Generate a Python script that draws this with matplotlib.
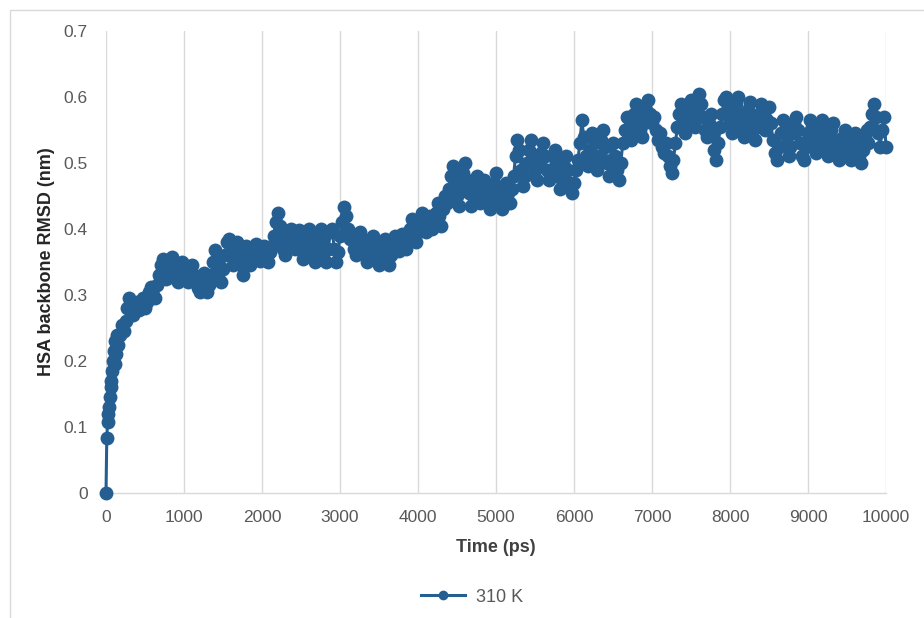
import matplotlib
matplotlib.use("Agg")
import matplotlib.pyplot as plt
from matplotlib.patches import Rectangle

plt.rcParams['font.family'] = ['Liberation Sans', 'DejaVu Sans']

# first frames are sampled densely (10 ps), the rest every 25 ps
early_t = [0, 10, 20, 30, 40, 50, 60, 70, 80, 90, 100, 110, 120, 130, 140]
early_rmsd = [0.0, 0.083, 0.108, 0.12, 0.13, 0.145, 0.16, 0.17, 0.185, 0.2,
              0.215, 0.195, 0.23, 0.21, 0.24]

# 310 K, t = 150 ps onward, one row = 500 ps
rmsd_310 = [
    0.225, 0.24, 0.255, 0.245, 0.26, 0.28, 0.295, 0.285, 0.27, 0.28,
    0.29, 0.278, 0.285, 0.295, 0.28, 0.29, 0.305, 0.312, 0.3, 0.295,
    0.315, 0.33, 0.345, 0.355, 0.34, 0.325, 0.335, 0.35, 0.357, 0.34,
    0.325, 0.32, 0.335, 0.35, 0.345, 0.33, 0.32, 0.335, 0.345, 0.33,
    0.325, 0.31, 0.305, 0.32, 0.333, 0.318, 0.305, 0.315, 0.33, 0.35,
    0.368, 0.355, 0.335, 0.32, 0.34, 0.36, 0.38, 0.385, 0.365, 0.345,
    0.36, 0.38, 0.365, 0.345, 0.33, 0.35, 0.375, 0.36, 0.345, 0.355,
    0.37, 0.378, 0.362, 0.352, 0.365, 0.375, 0.36, 0.35, 0.365, 0.375,
    0.39, 0.41, 0.424, 0.405, 0.385, 0.37, 0.36, 0.375, 0.395, 0.4,
    0.385, 0.37, 0.38, 0.398, 0.375, 0.355, 0.37, 0.39, 0.4, 0.38,
    0.36, 0.35, 0.37, 0.39, 0.4, 0.38, 0.365, 0.35, 0.37, 0.395,
    0.4, 0.37, 0.35, 0.365, 0.39, 0.41, 0.433, 0.42, 0.4, 0.385,
    0.39, 0.37, 0.36, 0.375, 0.395, 0.385, 0.37, 0.36, 0.35, 0.365,
    0.385, 0.39, 0.37, 0.355, 0.345, 0.36, 0.38, 0.385, 0.365, 0.345,
    0.36, 0.375, 0.39, 0.38, 0.367, 0.375, 0.392, 0.385, 0.37, 0.385,
    0.4, 0.415, 0.395, 0.38, 0.395, 0.41, 0.425, 0.41, 0.395, 0.405,
    0.42, 0.4, 0.41, 0.425, 0.44, 0.42, 0.405, 0.43, 0.45, 0.44,
    0.46, 0.48, 0.495, 0.47, 0.45, 0.435, 0.46, 0.485, 0.5, 0.475,
    0.455, 0.435, 0.45, 0.47, 0.48, 0.46, 0.44, 0.455, 0.475, 0.465,
    0.445, 0.43, 0.45, 0.47, 0.485, 0.46, 0.44, 0.43, 0.45, 0.47,
    0.455, 0.44, 0.46, 0.48, 0.51, 0.535, 0.52, 0.49, 0.465, 0.48,
    0.5, 0.52, 0.535, 0.51, 0.49, 0.475, 0.495, 0.515, 0.53, 0.51,
    0.49, 0.475, 0.49, 0.51, 0.52, 0.5, 0.48, 0.46, 0.475, 0.495,
    0.51, 0.49, 0.47, 0.455, 0.47, 0.49, 0.505, 0.53, 0.565, 0.54,
    0.51, 0.495, 0.52, 0.545, 0.53, 0.505, 0.49, 0.51, 0.535, 0.55,
    0.525, 0.5, 0.48, 0.505, 0.53, 0.51, 0.49, 0.475, 0.5, 0.53,
    0.55, 0.57, 0.545, 0.535, 0.555, 0.575, 0.59, 0.57, 0.55, 0.54,
    0.56, 0.58, 0.595, 0.575, 0.56, 0.57, 0.55, 0.535, 0.545, 0.525,
    0.515, 0.53, 0.51, 0.495, 0.485, 0.505, 0.53, 0.555, 0.575, 0.59,
    0.565, 0.545, 0.56, 0.58, 0.595, 0.57, 0.555, 0.58, 0.605, 0.59,
    0.57, 0.55, 0.54, 0.56, 0.575, 0.545, 0.52, 0.505, 0.53, 0.555,
    0.575, 0.595, 0.6, 0.58, 0.56, 0.545, 0.57, 0.59, 0.6, 0.575,
    0.555, 0.54, 0.56, 0.58, 0.592, 0.57, 0.55, 0.535, 0.555, 0.575,
    0.59, 0.57, 0.55, 0.565, 0.585, 0.56, 0.535, 0.515, 0.505, 0.525,
    0.545, 0.565, 0.55, 0.53, 0.51, 0.525, 0.545, 0.56, 0.57, 0.55,
    0.53, 0.51, 0.505, 0.525, 0.545, 0.565, 0.555, 0.535, 0.515, 0.53,
    0.55, 0.565, 0.545, 0.525, 0.51, 0.53, 0.55, 0.56, 0.535, 0.515,
    0.505, 0.52, 0.54, 0.55, 0.535, 0.515, 0.505, 0.525, 0.545, 0.53,
    0.51, 0.5, 0.52, 0.54, 0.55, 0.53, 0.555, 0.575, 0.59, 0.57,
    0.545, 0.525, 0.55, 0.57, 0.525,
]
main_t = [150 + 25 * i for i in range(len(rmsd_310))]

time_ps = early_t + main_t
rmsd = early_rmsd + rmsd_310

x_ticks = list(range(0, 10001, 1000))
y_ticks = [0, 0.1, 0.2, 0.3, 0.4, 0.5, 0.6, 0.7]
y_labels = ['0', '0.1', '0.2', '0.3', '0.4', '0.5', '0.6', '0.7']

blue = '#255E91'
grid_c = '#D9D9D9'
txt_c = '#595959'

fig = plt.figure(figsize=(9.24, 6.18), dpi=100)
# outer chart frame
fig.patches.append(Rectangle((10 / 924, -0.1), 1.2, 1.1 - 10 / 618,
                             transform=fig.transFigure, fill=False,
                             edgecolor=grid_c, linewidth=1.0))

ax = fig.add_axes([106 / 924, 1 - 493 / 618, 780 / 924, 462 / 618])
ax.plot(time_ps, rmsd, color=blue, linewidth=2.2, marker='o',
        markersize=10, markeredgewidth=0, clip_on=False, zorder=3,
        label='310 K')

ax.set_xlim(0, 10000)
ax.set_ylim(0, 0.7)
ax.set_xticks(x_ticks)
ax.set_yticks(y_ticks)
ax.set_yticklabels(y_labels)
ax.tick_params(length=0, labelsize=12.5, labelcolor=txt_c)
ax.tick_params(axis='x', pad=12)
ax.tick_params(axis='y', pad=13)
ax.grid(axis='x', color=grid_c, linewidth=1.0)
for s in ['top', 'right', 'left']:
    ax.spines[s].set_visible(False)
ax.spines['bottom'].set_color(grid_c)
ax.spines['bottom'].set_linewidth(1.0)

ax.set_xlabel('Time (ps)', fontsize=13, fontweight='bold', color='#404040',
              labelpad=10)
ax.set_ylabel('HSA backbone RMSD (nm)', fontsize=13, fontweight='bold',
              color='#262626', labelpad=6)

fig.legend(loc='center', bbox_to_anchor=(472 / 924, 1 - 597 / 618),
           frameon=False, fontsize=13, handlelength=2.4,
           labelcolor=txt_c, markerscale=0.7, handletextpad=0.6)

fig.savefig('out.png', dpi=100)
